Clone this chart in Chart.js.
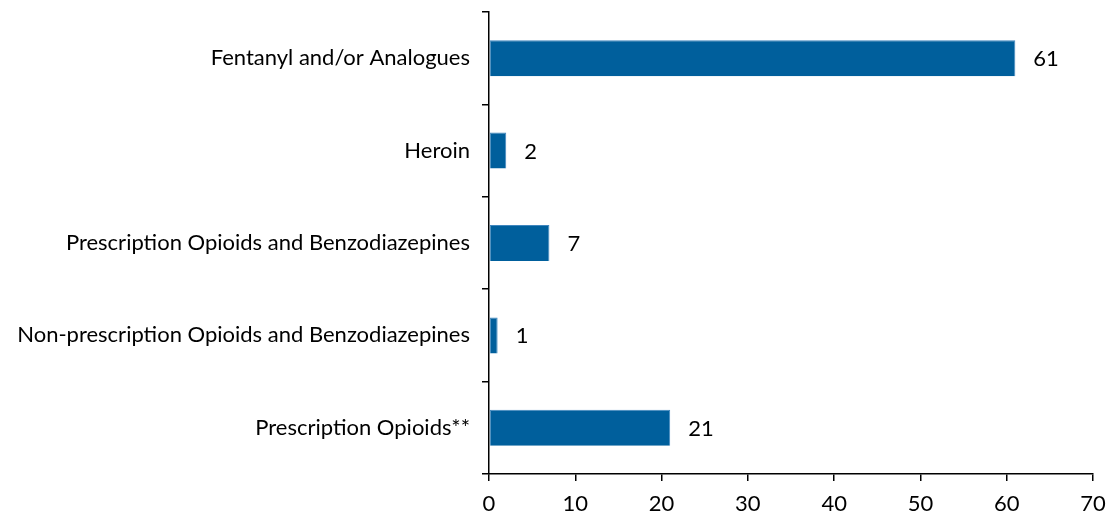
<!DOCTYPE html>
<html>
<head>
<meta charset="utf-8">
<script src="https://cdn.jsdelivr.net/npm/chart.js@4"></script>
<style>
html,body{margin:0;padding:0;background:#fff;}
#wrap{width:1112px;height:519px;position:relative;}
</style>
</head>
<body>
<div id="wrap"><canvas id="c" width="1112" height="519"></canvas></div>
<script>
const categories = [
  "Fentanyl and/or Analogues",
  "Heroin",
  "Prescription Opioids and Benzodiazepines",
  "Non-prescription Opioids and Benzodiazepines",
  "Prescription Opioids**"
];
const values = [61, 2, 7, 1, 21];
const xTicks = [0, 10, 20, 30, 40, 50, 60, 70];

const FONT = "Lato";
const FSIZE = 22;

const valueLabels = {
  id: 'valueLabels',
  afterDatasetsDraw(chart) {
    const ctx = chart.ctx;
    const meta = chart.getDatasetMeta(0);
    ctx.save();
    ctx.font = FSIZE + "px " + FONT;
    ctx.fillStyle = "#000";
    ctx.textAlign = "left";
    ctx.textBaseline = "middle";
    meta.data.forEach((bar, i) => {
      ctx.fillText(String(values[i]), bar.x + 18, bar.y + 1);
    });
    ctx.restore();
  }
};

new Chart(document.getElementById('c'), {
  type: 'bar',
  data: {
    labels: categories,
    datasets: [{
      data: values,
      backgroundColor: '#005F9C',
      borderColor: '#3F86BE',
      borderWidth: {top: 1, left: 1, right: 1, bottom: 0},
      borderSkipped: false,
      categoryPercentage: 0.39,
      barPercentage: 1.0
    }]
  },
  options: {
    indexAxis: 'y',
    responsive: false,
    animation: false,
    devicePixelRatio: 1,
    layout: {padding: {top: 12, right: 19, bottom: 0, left: 0}},
    plugins: {legend: {display: false}, tooltip: {enabled: false}},
    scales: {
      x: {
        min: 0, max: 70,
        afterBuildTicks(scale) { scale.ticks = xTicks.map(v => ({value: v})); },
        afterFit(scale) { scale.height = 45; scale.paddingLeft = 0; scale.paddingRight = 0; },
        border: {display: true, color: '#000', width: 1.5},
        grid: {display: true, drawOnChartArea: false, drawTicks: true, tickLength: 7, color: '#000', lineWidth: 1.5},
        ticks: {color: '#000', font: {family: FONT, size: FSIZE}, padding: 10, maxRotation: 0}
      },
      y: {
        afterFit(scale) { scale.width = 489; scale.paddingTop = 0; scale.paddingBottom = 0; },
        border: {display: true, color: '#000', width: 1.5},
        grid: {display: true, offset: true, drawOnChartArea: false, drawTicks: true, tickLength: 7, color: '#000', lineWidth: 1.5},
        ticks: {color: '#000', font: {family: FONT, size: FSIZE}, padding: 12}
      }
    }
  },
  plugins: [valueLabels]
});
</script>
</body>
</html>
